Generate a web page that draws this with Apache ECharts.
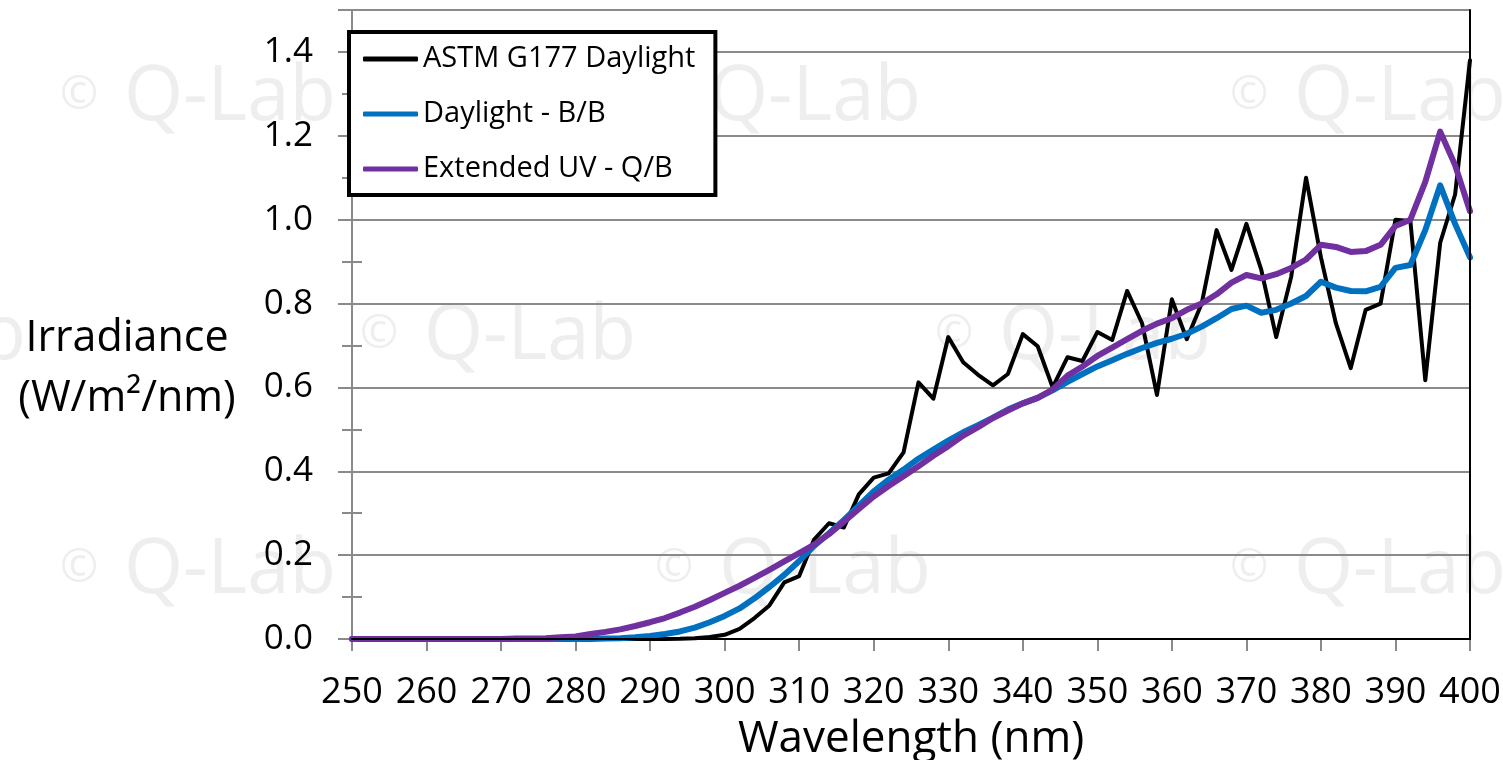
<!DOCTYPE html>
<html><head><meta charset="utf-8">
<script src="https://cdn.jsdelivr.net/npm/echarts@6/dist/echarts.min.js"></script>
<style>html,body{margin:0;padding:0;background:#fff}#c{width:1503px;height:760px}</style>
</head><body><div id="c"></div>
<script>
const wavelengths = [250,252,254,256,258,260,262,264,266,268,270,272,274,276,278,280,282,284,286,288,
  290,292,294,296,298,300,302,304,306,308,310,312,314,316,318,320,322,324,326,328,
  330,332,334,336,338,340,342,344,346,348,350,352,354,356,358,360,362,364,366,368,
  370,372,374,376,378,380,382,384,386,388,390,392,394,396,398,400];

const astmG177 = [0,0,0,0,0,0,0,0,0,0,0,0,0,0,0,0,0,0,0,0,
  0,0,0.0005,0.002,0.005,0.01,0.024,0.05,0.08,0.135,0.15,0.237,0.276,0.266,0.345,0.385,0.395,0.445,0.612,0.573,
  0.72,0.66,0.63,0.605,0.632,0.727,0.698,0.6,0.672,0.663,0.732,0.713,0.83,0.753,0.582,0.81,0.715,0.8,0.975,0.88,
  0.99,0.88,0.72,0.863,1.1,0.91,0.753,0.646,0.785,0.8,1.0,0.997,0.617,0.945,1.06,1.38];

const daylightBB = [0,0,0,0,0,0,0,0,0,0,0,0,0,0,0,0,0,0.001,0.002,0.004,
  0.007,0.012,0.018,0.027,0.04,0.055,0.073,0.097,0.124,0.153,0.186,0.222,0.252,0.284,0.318,0.352,0.38,0.404,0.43,0.452,
  0.473,0.493,0.51,0.528,0.547,0.562,0.575,0.593,0.613,0.632,0.65,0.665,0.68,0.694,0.706,0.716,0.728,0.745,0.765,0.787,
  0.795,0.778,0.785,0.8,0.818,0.852,0.838,0.83,0.829,0.84,0.885,0.892,0.975,1.082,0.99,0.91];

const extendedUVQB = [0,0,0,0,0,0,0,0,0,0,0,0.001,0.001,0.002,0.004,0.006,0.012,0.017,0.023,0.031,
  0.04,0.05,0.063,0.077,0.093,0.11,0.127,0.146,0.165,0.185,0.205,0.225,0.25,0.28,0.31,0.34,0.365,0.388,0.412,0.437,
  0.46,0.485,0.505,0.527,0.545,0.562,0.575,0.595,0.628,0.65,0.675,0.695,0.715,0.735,0.752,0.765,0.785,0.8,0.822,0.85,
  0.868,0.86,0.87,0.885,0.905,0.94,0.935,0.923,0.925,0.94,0.985,1.0,1.09,1.21,1.13,1.02];

const seriesNames = ['ASTM G177 Daylight', 'Daylight - B/B', 'Extended UV - Q/B'];
const seriesColors = ['#000000', '#0070C0', '#7030A0'];
const xTitle = 'Wavelength (nm)';
const yTitleLines = ['Irradiance', '(W/m²/nm)'];

const FONT = 'Open Sans';
const GREY = '#8a8a8a';
const WM = '#eeeeee';

// watermark decoration (© Q-Lab)
const wm = [];
const rows = [{y: 101, xs: [60, 645, 1230]}, {y: 340, xs: [-250, 360, 935]}, {y: 574, xs: [60, 655, 1230]}];
rows.forEach(r => {
  r.xs.forEach(x => {
    wm.push({type: 'text', z: -100, position: [x, r.y - 28],
      style: {text: '©', fontSize: 46, fontFamily: FONT, fill: WM}});
    wm.push({type: 'text', z: -100, position: [x + 64, r.y - 41],
      style: {text: 'Q-Lab', fontSize: 76, fontFamily: FONT, fill: WM}});
  });
});

const chart = echarts.init(document.getElementById('c'), null, {renderer: 'canvas'});
const datasets = [astmG177, daylightBB, extendedUVQB];

chart.setOption({
  animation: false,
  backgroundColor: '#fff',
  textStyle: {fontFamily: FONT},
  grid: {left: 352, right: 33, top: 10, bottom: 121, containLabel: false, outerBoundsMode: 'none'},
  graphic: wm.concat([
    {type: 'text', z: 10, position: [127, 339],
      style: {text: yTitleLines[0], fontSize: 43, fontFamily: FONT, fill: '#000', textAlign: 'center', textVerticalAlign: 'middle'}},
    {type: 'text', z: 10, position: [127, 399],
      style: {text: yTitleLines[1], fontSize: 43, fontFamily: FONT, fill: '#000', textAlign: 'center', textVerticalAlign: 'middle'}}
  ]),
  legend: {
    orient: 'vertical', left: 349, top: 32,
    backgroundColor: '#fff', borderColor: '#000', borderWidth: 4, borderRadius: 0,
    padding: [12, 20, 11, 14],
    itemWidth: 55, itemHeight: 5, itemGap: 25,
    textStyle: {fontSize: 29, fontFamily: FONT, color: '#000', lineHeight: 30},
    data: seriesNames.map((n, i) => ({name: n, icon: 'roundRect', itemStyle: {color: seriesColors[i]}}))
  },
  xAxis: [{
    type: 'value', min: 250, max: 400, interval: 10,
    axisLine: {show: true, lineStyle: {color: GREY, width: 2}},
    axisTick: {show: true, length: 12, lineStyle: {color: GREY, width: 2}},
    axisLabel: {fontSize: 36, color: '#000', margin: 36, fontFamily: FONT},
    splitLine: {show: false},
    name: xTitle, nameLocation: 'middle', nameGap: 78,
    nameTextStyle: {fontSize: 44, color: '#000', fontFamily: FONT}
  }, {
    type: 'value', min: 250, max: 400, position: 'top', z: 5,
    axisLine: {show: true, lineStyle: {color: '#000', width: 2}},
    axisTick: {show: false}, axisLabel: {show: false}, splitLine: {show: false}
  }],
  yAxis: [{
    type: 'value', min: 0, max: 1.5, interval: 0.2,
    axisLine: {show: true, lineStyle: {color: GREY, width: 2}},
    axisTick: {show: true, length: 14, lineStyle: {color: GREY, width: 2}},
    axisLabel: {fontSize: 35, color: '#000', margin: 39, fontFamily: FONT,
      formatter: v => Math.abs(v - 1.5) < 1e-6 ? '' : v.toFixed(1)},
    splitLine: {show: true, lineStyle: {color: GREY, width: 2}}
  }, {
    type: 'value', min: 0, max: 1.5, interval: 0.1, position: 'left',
    axisLine: {show: false}, axisLabel: {show: false}, splitLine: {show: false},
    axisTick: {show: true, length: 10, lineStyle: {color: GREY, width: 2}}
  }, {
    type: 'value', min: 0, max: 1.5, interval: 0.1, position: 'left',
    axisLine: {show: false}, axisLabel: {show: false}, splitLine: {show: false},
    axisTick: {show: true, inside: true, length: 10, lineStyle: {color: GREY, width: 2}}
  }, {
    type: 'value', min: 0, max: 1.5, position: 'right', z: 5,
    axisLine: {show: true, lineStyle: {color: '#000', width: 2}},
    axisTick: {show: false}, axisLabel: {show: false}, splitLine: {show: false}
  }],
  series: seriesNames.map((name, i) => ({
    name, type: 'line', xAxisIndex: 0, yAxisIndex: 0,
    symbol: 'none', smooth: false,
    lineStyle: {color: seriesColors[i], width: i === 0 ? 4 : 6, join: 'round', cap: 'round'},
    itemStyle: {color: seriesColors[i]},
    emphasis: {disabled: true},
    data: wavelengths.map((w, j) => [w, datasets[i][j]]),
    z: 2 + i
  }))
});
</script>
</body></html>
